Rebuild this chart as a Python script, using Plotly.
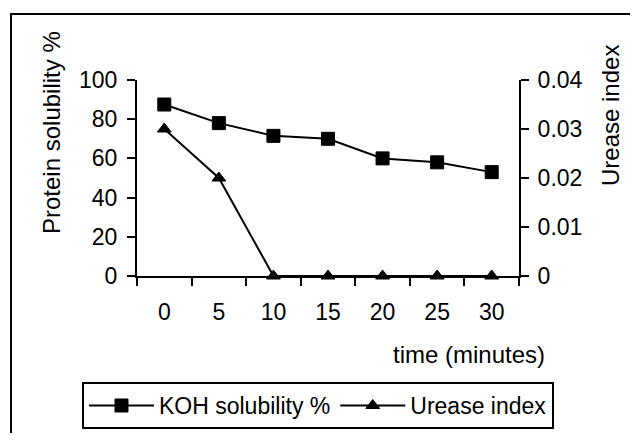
import plotly.graph_objects as go

time_labels = ["0", "5", "10", "15", "20", "25", "30"]
koh_solubility = [87.5, 78, 71.5, 70, 60, 58, 53]
urease_index = [0.03, 0.02, 0, 0, 0, 0, 0]

FONT = "Liberation Sans, Arial, sans-serif"
BLACK = "#000000"

fig = go.Figure()
fig.add_trace(go.Scatter(
    x=time_labels, y=koh_solubility, name="KOH solubility %",
    mode="lines+markers", xaxis="x", yaxis="y",
    line=dict(color=BLACK, width=2),
    marker=dict(symbol="square", size=13, color=BLACK, line=dict(color=BLACK, width=1)),
))
fig.add_trace(go.Scatter(
    x=time_labels, y=urease_index, name="Urease index",
    mode="lines+markers", xaxis="x", yaxis="y2",
    line=dict(color=BLACK, width=2),
    marker=dict(symbol="triangle-up", size=12, color=BLACK, line=dict(color=BLACK, width=1)),
    cliponaxis=False,
))

tickfont = dict(family=FONT, size=23, color=BLACK)
n = len(time_labels)
bounds = [i - 0.5 for i in range(n + 1)]

fig.update_layout(
    width=622, height=425,
    margin=dict(l=129, r=111, t=72, b=157, autoexpand=False),
    paper_bgcolor="white", plot_bgcolor="white",
    showlegend=True,
    font=dict(family=FONT, size=23, color=BLACK),
    xaxis=dict(
        type="category", categoryorder="array", categoryarray=time_labels,
        range=[-0.5, n - 0.5], tickson="boundaries",
        ticks="outside", ticklen=8, tickwidth=1.5, tickcolor=BLACK,
        showline=True, linecolor=BLACK, linewidth=2,
        showgrid=False, zeroline=False, tickfont=tickfont,
        ticklabelstandoff=14, automargin=False,
    ),
    xaxis2=dict(
        overlaying="x", anchor="y", range=[-0.5, n - 0.5],
        tickmode="array", tickvals=bounds, ticks="inside", ticklen=7,
        tickwidth=1.5, tickcolor=BLACK, showticklabels=False,
        showline=False, showgrid=False, zeroline=False,
    ),
    xaxis3=dict(
        overlaying="x", anchor="y", side="top", range=[-0.5, n - 0.5],
        ticks="", showticklabels=False, showline=True, linecolor="#8c8c8c",
        linewidth=1.5, showgrid=False, zeroline=False,
    ),
    yaxis=dict(
        range=[0, 100], tickmode="array", tickvals=[0, 20, 40, 60, 80, 100],
        ticks="outside", ticklen=8, tickwidth=1.5, tickcolor=BLACK,
        showline=True, linecolor=BLACK, linewidth=2,
        showgrid=False, zeroline=False, tickfont=tickfont,
        ticklabelstandoff=5, automargin=False,
    ),
    yaxis2=dict(
        overlaying="y", side="right", anchor="x", range=[0, 0.04],
        tickmode="array", tickvals=[0, 0.01, 0.02, 0.03, 0.04],
        ticktext=["0", "0.01", "0.02", "0.03", "0.04"],
        ticks="outside", ticklen=8, tickwidth=1.5, tickcolor=BLACK,
        showline=True, linecolor=BLACK, linewidth=2,
        showgrid=False, zeroline=False, tickfont=tickfont,
        ticklabelstandoff=4, automargin=False,
    ),
    yaxis3=dict(
        overlaying="y", side="left", anchor="x", range=[0, 100],
        tickmode="array", tickvals=[0, 20, 40, 60, 80, 100],
        ticks="inside", ticklen=7, tickwidth=1.5, tickcolor=BLACK,
        showticklabels=False, showline=False, showgrid=False, zeroline=False,
    ),
    yaxis4=dict(
        overlaying="y", side="right", anchor="x", range=[0, 0.04],
        tickmode="array", tickvals=[0, 0.01, 0.02, 0.03, 0.04],
        ticks="inside", ticklen=7, tickwidth=1.5, tickcolor=BLACK,
        showticklabels=False, showline=False, showgrid=False, zeroline=False,
    ),
    legend=dict(
        orientation="h", x=-0.144, xanchor="left", y=-0.541, yanchor="top",
        bordercolor=BLACK, borderwidth=2, bgcolor="white",
        font=dict(family=FONT, size=23, color=BLACK),
        itemwidth=65,
    ),
    shapes=[dict(
        type="rect", xref="paper", yref="paper",
        x0=-0.3298, x1=1.6, y0=-1.2, y1=1.337,
        line=dict(color=BLACK, width=2), fillcolor="rgba(0,0,0,0)", layer="below",
    )],
    annotations=[
        dict(text="Protein solubility %", xref="paper", yref="paper",
             x=-0.2225, y=0.7296, textangle=-90, showarrow=False,
             xanchor="center", yanchor="middle",
             font=dict(family=FONT, size=24, color=BLACK)),
        dict(text="Urease index", xref="paper", yref="paper",
             x=1.238, y=0.821, textangle=-90, showarrow=False,
             xanchor="center", yanchor="middle",
             font=dict(family=FONT, size=24, color=BLACK)),
        dict(text="time (minutes)", xref="paper", yref="paper",
             x=1.073, y=-0.40, showarrow=False,
             xanchor="right", yanchor="middle",
             font=dict(family=FONT, size=24, color=BLACK)),
    ],
)

fig.write_html("out.html")
